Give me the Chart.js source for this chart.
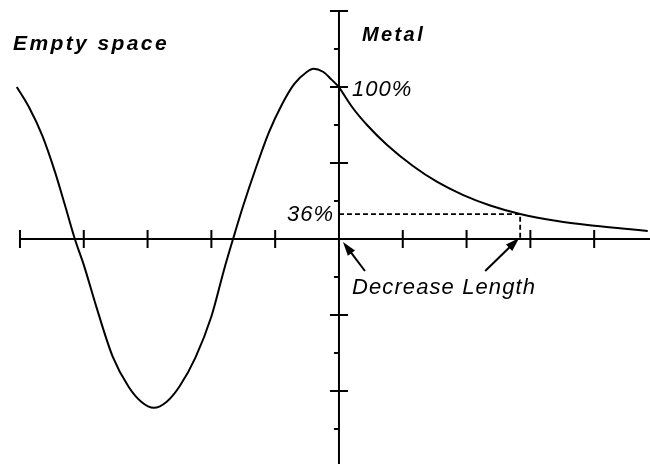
<!DOCTYPE html>
<html>
<head>
<meta charset="utf-8">
<script src="https://cdn.jsdelivr.net/npm/chart.js@4.4.1/dist/chart.umd.min.js"></script>
<style>
  html, body { margin: 0; padding: 0; background: #fff; }
</style>
</head>
<body>
<canvas id="chart" width="650" height="464"></canvas>
<script>
// x in tick units (one tick per unit), y in % of the 100% mark

// wave in empty space (left of the surface)
const waveX = [-5.05, -4.85, -4.65, -4.45, -4.30, -4.14, -4.00, -3.80, -3.55, -3.30, -3.10, -2.90, -2.70, -2.50, -2.25, -2.00, -1.80, -1.66, -1.50, -1.30, -1.10, -0.90, -0.70, -0.50, -0.40, -0.25, -0.12, 0];
const waveY = [100, 86, 68, 44, 23, 0, -17, -45, -77, -97, -107, -111, -107, -97, -78, -51, -20, 0, 22, 47, 70, 88, 102, 110, 112, 110, 105, 100];

// decay inside the metal
const metalX = [0, 0.22, 0.44, 0.75, 1.16, 1.54, 1.94, 2.37, 2.84, 3.42, 3.93, 4.40, 4.84];
const metalY = [100, 86, 75, 62, 48, 37.5, 29, 22, 16.4, 11.8, 9.0, 7.0, 5.3];

// the 36% level and where it is reached
const decayLevel = 16.4;
const decayLength = 2.84;

// axis ticks
const xTicks = [-5, -4, -3, -2, -1, 1, 2, 3, 4];
const yMajor = [-100, -50, 50, 100, 150];
const yMinor = [-125, -75, -25, 25, 75, 125];

const toPoints = (xs, ys) => xs.map((x, i) => ({ x, y: ys[i] }));

const FONT = '"Liberation Sans", Arial, sans-serif';

function arrow(ctx, x1, y1, x2, y2) {
  const a = Math.atan2(y2 - y1, x2 - x1);
  const len = 14, w = 4.5;
  ctx.beginPath();
  ctx.moveTo(x1, y1);
  ctx.lineTo(x2 - Math.cos(a) * len * 0.8, y2 - Math.sin(a) * len * 0.8);
  ctx.stroke();
  ctx.beginPath();
  ctx.moveTo(x2, y2);
  ctx.lineTo(x2 - Math.cos(a) * len - Math.sin(a) * w, y2 - Math.sin(a) * len + Math.cos(a) * w);
  ctx.lineTo(x2 - Math.cos(a) * len + Math.sin(a) * w, y2 - Math.sin(a) * len - Math.cos(a) * w);
  ctx.closePath();
  ctx.fill();
}

const axesPlugin = {
  id: 'crossAxes',
  beforeDatasetsDraw(chart) {
    const { ctx, scales: { x, y } } = chart;
    const x0 = x.getPixelForValue(0);
    const y0 = y.getPixelForValue(0);
    ctx.save();
    ctx.strokeStyle = '#000';
    ctx.lineWidth = 2;
    ctx.beginPath();
    ctx.moveTo(x.getPixelForValue(-5), y0);
    ctx.lineTo(x.right, y0);
    ctx.moveTo(x0, y.getPixelForValue(150));
    ctx.lineTo(x0, y.bottom);
    xTicks.forEach(v => {
      const px = x.getPixelForValue(v);
      ctx.moveTo(px, y0 - 9);
      ctx.lineTo(px, y0 + 9);
    });
    yMajor.forEach(v => {
      const py = y.getPixelForValue(v);
      ctx.moveTo(x0 - 9, py);
      ctx.lineTo(x0 + 9, py);
    });
    yMinor.forEach(v => {
      const py = y.getPixelForValue(v);
      ctx.moveTo(x0 - 5, py);
      ctx.lineTo(x0, py);
    });
    ctx.stroke();
    ctx.restore();
  },
  afterDatasetsDraw(chart) {
    const { ctx, scales: { x, y } } = chart;
    const X = v => x.getPixelForValue(v);
    const Y = v => y.getPixelForValue(v);
    ctx.save();
    ctx.fillStyle = '#000';
    ctx.strokeStyle = '#000';
    ctx.textBaseline = 'alphabetic';
    ctx.textAlign = 'left';

    ctx.font = 'italic bold 21px ' + FONT;
    ctx.letterSpacing = '2.4px';
    ctx.fillText('Empty space', 13, 50);
    ctx.font = 'italic bold 20px ' + FONT;
    ctx.fillText('Metal', X(0) + 23, 41);

    ctx.font = 'italic 22px ' + FONT;
    ctx.letterSpacing = '1px';
    ctx.fillText('100%', X(0) + 13, Y(100) + 9);
    ctx.textAlign = 'right';
    ctx.fillText('36%', X(0) - 5, Y(decayLevel) + 7);

    ctx.textAlign = 'left';
    ctx.font = 'italic 22px ' + FONT;
    ctx.letterSpacing = '1.1px';
    ctx.fillText('Decrease Length', X(0) + 13, Y(0) + 55);

    ctx.lineWidth = 2;
    arrow(ctx, X(0) + 26, Y(0) + 32, X(0) + 4, Y(0) + 3);
    arrow(ctx, X(decayLength) - 35, Y(0) + 32, X(decayLength) - 1, Y(0) - 1);
    ctx.restore();
  }
};

new Chart(document.getElementById('chart'), {
  type: 'scatter',
  data: {
    datasets: [
      {
        label: 'Empty space',
        data: toPoints(waveX, waveY),
        showLine: true,
        borderColor: '#000',
        borderWidth: 2,
        pointRadius: 0,
        cubicInterpolationMode: 'monotone'
      },
      {
        label: 'Metal',
        data: toPoints(metalX, metalY),
        showLine: true,
        borderColor: '#000',
        borderWidth: 2,
        pointRadius: 0,
        cubicInterpolationMode: 'monotone'
      },
      {
        label: '36%',
        data: [{ x: 0, y: decayLevel }, { x: decayLength, y: decayLevel }, { x: decayLength, y: 0 }],
        showLine: true,
        borderColor: '#000',
        borderWidth: 1.8,
        borderDash: [5, 3],
        pointRadius: 0,
        tension: 0
      }
    ]
  },
  options: {
    responsive: false,
    animation: false,
    layout: { padding: 0 },
    plugins: { legend: { display: false }, tooltip: { enabled: false } },
    scales: {
      x: { type: 'linear', display: false, min: -5.313, max: 4.875 },
      y: { type: 'linear', display: false, min: -148, max: 157.2 }
    }
  },
  plugins: [axesPlugin]
});
</script>
</body>
</html>
